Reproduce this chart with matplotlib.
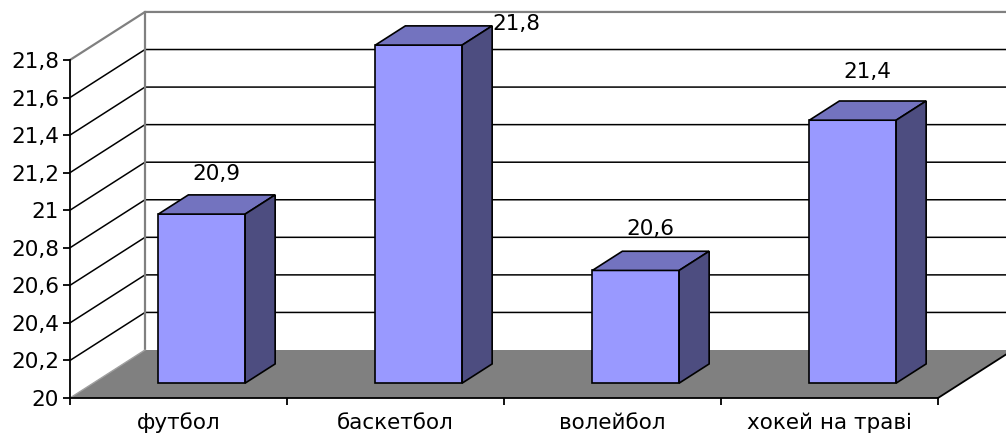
import numpy as np
import matplotlib
matplotlib.use('Agg')
import matplotlib.pyplot as plt
from matplotlib.patches import Polygon

categories = ['футбол', 'баскетбол', 'волейбол', 'хокей на траві']
values = [20.9, 21.8, 20.6, 21.4]
y_ticks = [20.0, 20.2, 20.4, 20.6, 20.8, 21.0, 21.2, 21.4, 21.6, 21.8]

plt.rcParams['font.family'] = ['DejaVu Sans']
plt.rcParams['font.size'] = 15.5

# fake 3d: depth shifts the point right and up
DX = 75 / 217.0     # in category units
DY = 48 / 187.8     # in value units
BASE = y_ticks[0]
TOP = y_ticks[-1]
N = len(categories)

def proj(x, v, d):
    return (x + d * DX, v + d * DY)

fig = plt.figure(figsize=(10.06, 4.37), dpi=100)
ax = fig.add_axes([70 / 1006, 39 / 437, 868 / 1006, 388 / 437])
ax.set_xlim(0, N)
ax.set_ylim(BASE, BASE + 388 / 187.8)

wall_grey = '#808080'

# walls
ax.add_patch(Polygon([proj(0, BASE, 0), proj(0, TOP, 0), proj(0, TOP, 1), proj(0, BASE, 1)],
                     closed=True, fc='white', ec='none', zorder=0, clip_on=False))
for v in y_ticks[1:-1]:
    pts = np.array([proj(0, v, 0), proj(0, v, 1), proj(N, v, 1)])
    ax.plot(pts[:, 0], pts[:, 1], color='black', lw=1.1, zorder=1, clip_on=False)
pts = np.array([proj(0, TOP, 0), proj(0, TOP, 1), proj(N, TOP, 1)])
ax.plot(pts[:, 0], pts[:, 1], color=wall_grey, lw=1.6, zorder=1, clip_on=False)
pts = np.array([proj(0, BASE, 1), proj(0, TOP, 1)])
ax.plot(pts[:, 0], pts[:, 1], color=wall_grey, lw=1.6, zorder=1, clip_on=False)

# floor
ax.add_patch(Polygon([proj(0, BASE, 0), proj(N, BASE, 0), proj(N, BASE, 1), proj(0, BASE, 1)],
                     closed=True, fc=wall_grey, ec='none', zorder=1.5, clip_on=False))
pts = np.array([proj(N, BASE, 0), proj(N, BASE, 1)])
ax.plot(pts[:, 0], pts[:, 1], color='black', lw=1.3, zorder=1.6, clip_on=False)
pts = np.array([proj(0, BASE, 0), proj(0, BASE, 1)])
ax.plot(pts[:, 0], pts[:, 1], color='#a0a0a0', lw=1.0, zorder=1.6, clip_on=False)

# bars
front_c = '#9999ff'
top_c = '#7373bf'
side_c = '#4d4d80'
d0, d1 = 0.31, 0.71
label_lift = [22, 0, 23, 28]   # points above the bar top
ylim_top = ax.get_ylim()[1]
for i, v in enumerate(values):
    x0, x1 = i + 0.3, i + 0.7
    front = [proj(x0, BASE, d0), proj(x1, BASE, d0), proj(x1, v, d0), proj(x0, v, d0)]
    top = [proj(x0, v, d0), proj(x1, v, d0), proj(x1, v, d1), proj(x0, v, d1)]
    side = [proj(x1, BASE, d0), proj(x1, BASE, d1), proj(x1, v, d1), proj(x1, v, d0)]
    for poly, c in [(front, front_c), (top, top_c), (side, side_c)]:
        ax.add_patch(Polygon(poly, closed=True, fc=c, ec='black', lw=1.2, zorder=3,
                             joinstyle='miter', clip_on=False))
    lab = ('%g' % v).replace('.', ',')
    mid = proj((x0 + x1) / 2, v, (d0 + d1) / 2)
    if mid[1] + 0.165 + 0.05 > ylim_top:
        # no room above: put it next to the top back corner
        corner = proj(x1, v, d1)
        ax.annotate(lab, corner, xytext=(0.5, 1), textcoords='offset points',
                    ha='left', va='center', zorder=4, annotation_clip=False)
    else:
        ax.annotate(lab, mid, xytext=(0, label_lift[i]), textcoords='offset points',
                    ha='center', va='center', zorder=4, annotation_clip=False)

# axes
for s in ['top', 'right']:
    ax.spines[s].set_visible(False)
ax.spines['left'].set_bounds(BASE, TOP)
ax.spines['left'].set_linewidth(1.3)
ax.spines['bottom'].set_linewidth(1.3)
ax.spines['left'].set_zorder(5)
ax.spines['bottom'].set_zorder(5)
ax.set_yticks(y_ticks)
ax.set_yticklabels([('%g' % t).replace('.', ',') for t in y_ticks])
ax.tick_params(axis='y', direction='out', length=5, width=1.3, pad=3)
ax.set_xticks(np.arange(N + 1))
ax.set_xticklabels([])
ax.set_xticks(np.arange(N) + 0.5, minor=True)
ax.set_xticklabels(categories, minor=True)
ax.tick_params(axis='x', which='major', direction='out', length=5, width=1.3)
ax.tick_params(axis='x', which='minor', length=0, pad=10.5)
ax.patch.set_alpha(0)

fig.savefig('out.png', dpi=100)
